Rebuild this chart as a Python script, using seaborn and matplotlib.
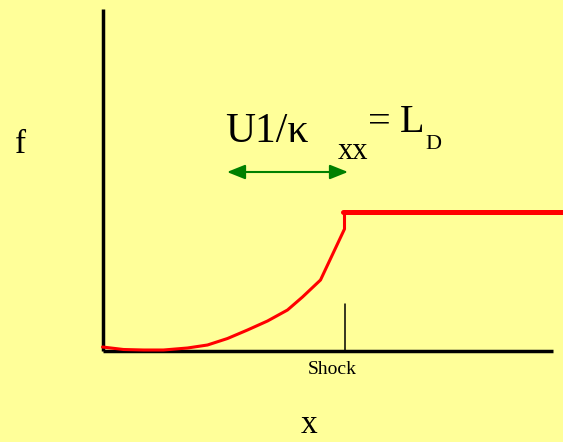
import matplotlib
matplotlib.use("Agg")
import matplotlib.pyplot as plt
import seaborn as sns
import pandas as pd

# curve (x from the f-axis, y from the x-axis)
curve_x = [0, 21, 41, 61, 85, 105, 125, 145, 165, 185, 200, 218, 242, 242]
curve_y = [3.5, 1, 0.5, 0.5, 2.5, 5.5, 12, 20.5, 29.5, 40.5, 53.5, 70.5, 121.5, 135.5]
plateau_x = [240, 461]
plateau_y = [139, 139]
shock_x = 242
shock_top = 47
axis_top = 341.5
axis_right = 450.5

BG = "#FFFF99"

sns.set_style("white", {"axes.facecolor": BG, "figure.facecolor": BG})
plt.rcParams["font.family"] = ["Liberation Serif", "DejaVu Serif"]
plt.rcParams["text.color"] = "black"

fig = plt.figure(figsize=(5.63, 4.42), dpi=100)
ax = fig.add_axes([0, 0, 1, 1])

# axes
ax.plot([0, 0], [0, axis_top], color="black", lw=2.5, solid_capstyle="butt")
ax.plot([0, axis_right], [0, 0], color="black", lw=2.5, solid_capstyle="butt")

# shock marker
ax.plot([shock_x, shock_x], [0, shock_top], color="black", lw=1.1)

# curve
df = pd.DataFrame({"x": curve_x, "y": curve_y})
sns.lineplot(data=df, x="x", y="y", sort=False, estimator=None,
             color="red", lw=2.2, ax=ax)
sns.lineplot(x=plateau_x, y=plateau_y, estimator=None,
             color="red", lw=3.6, ax=ax)
ax.set_xlim(-102.5, 460.5)
ax.set_ylim(-91.5, 350.5)
ax.axis("off")

# labels
ax.text(-81.5, 197.5, "f", fontsize=24, ha="center", va="baseline")
ax.text(206.5, -82.5, "x", fontsize=24, ha="center", va="baseline")
ax.text(229.5, -23.5, "Shock", fontsize=14, ha="center", va="baseline")

ax.text(122.5, 208.5, "U1/\u03ba", fontsize=30, ha="left", va="baseline")
ax.text(235.5, 191.5, "xx", fontsize=22, ha="left", va="baseline")
ax.text(265.5, 218.5, "=", fontsize=29, ha="left", va="baseline")
ax.text(297.5, 218.5, "L", fontsize=29, ha="left", va="baseline")
ax.text(322.5, 201.5, "D", fontsize=16, ha="left", va="baseline")

ax.annotate("", xy=(245.5, 178.5), xytext=(124.5, 178.5),
            arrowprops=dict(arrowstyle="<|-|>,head_length=0.55,head_width=0.22",
                            color="green", lw=1.5, mutation_scale=20,
                            shrinkA=0, shrinkB=0))

fig.savefig("out.png", dpi=100, facecolor=BG)
